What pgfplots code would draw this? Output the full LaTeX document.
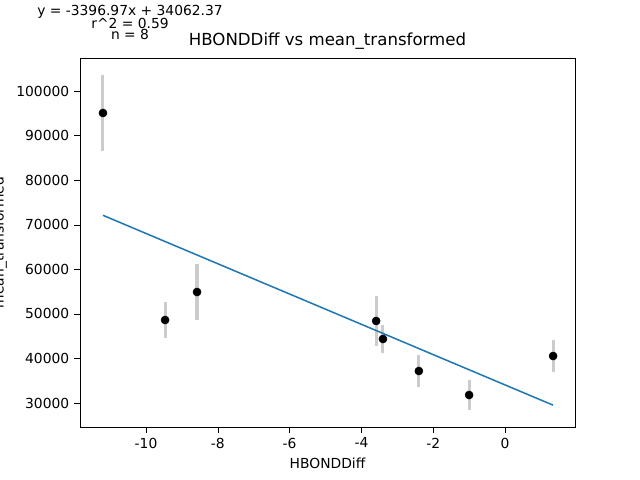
\documentclass[border=0pt]{standalone}
\usepackage{pgfplots}
\pgfplotsset{compat=1.18}
\usepackage{fontspec}
\setmainfont{DejaVu Sans}
\definecolor{tabblue}{HTML}{1F77B4}
\begin{document}
\begin{tikzpicture}
\path[use as bounding box] (0,0) rectangle (6.4in,4.8in);
\begin{axis}[at={(0.8in,0.53in)}, anchor=south west, scale only axis,
 width=4.95in, height=3.69in,
 xmin=-11.84, xmax=1.95, ymin=24615, ymax=107400,
 xtick={-10,-8,-6,-4,-2,0}, ytick={30000,40000,50000,60000,70000,80000,90000,100000},
 xtick pos=bottom, ytick pos=left,
 scaled y ticks=false,
 yticklabel style={/pgf/number format/.cd,fixed,1000 sep={}},
 /pgf/number format/assume math mode=true,
 tick align=outside, tick style={black}, font=\normalsize,
 ticklabel style={font=\normalsize},
 title={HBONDDiff vs mean\_transformed}, title style={font=\large, yshift=-3pt},
 xlabel={HBONDDiff}, ylabel={mean\_transformed},
 xlabel style={font=\normalsize}, ylabel style={font=\normalsize},
 minor tick num=0]
\addplot[only marks, mark=none, draw=none, error bars/.cd, y dir=both, y explicit,
 error bar style={line width=2.2pt, color=black!20}, error mark=none]
 coordinates {
 (-11.2,95064) +- (0,8600)
 (-9.47,48620) +- (0,4000)
 (-8.58,54900) +- (0,6300)
 (-3.59,48400) +- (0,5700)
 (-3.40,44360) +- (0,3100)
 (-2.40,37180) +- (0,3600)
 (-1.00,31790) +- (0,3400)
 (1.34,40540) +- (0,3600)
 };
\addplot[tabblue, line width=1.1pt] coordinates {(-11.2,72108) (1.34,29510)};
\addplot[only marks, mark=*, mark size=2.9pt, black] coordinates {
 (-11.2,95064) (-9.47,48620) (-8.58,54900) (-3.59,48400)
 (-3.40,44360) (-2.40,37180) (-1.00,31790) (1.34,40540)};
\end{axis}
\node[font=\normalsize] at (1.3in,4.68in) {y = -3396.97x + 34062.37};
\node[font=\normalsize] at (1.3in,4.57in) {r\^{}2 = 0.59};
\node[font=\normalsize] at (1.3in,4.46in) {n = 8};
\end{tikzpicture}
\end{document}
